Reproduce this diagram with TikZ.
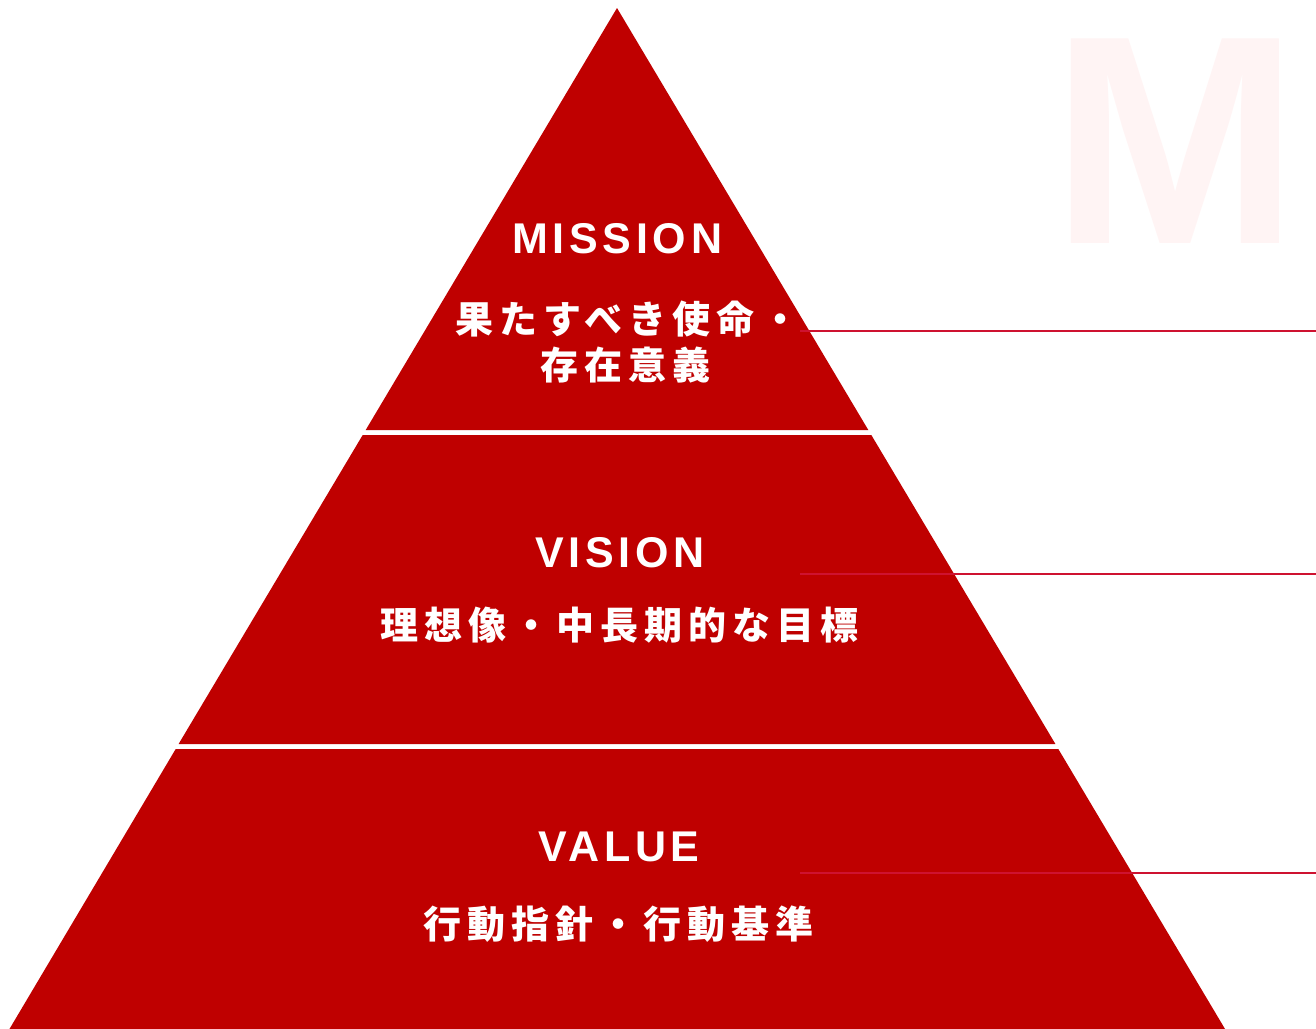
\documentclass[tikz,border=0pt]{standalone}
\usepackage{fontspec}
\setmainfont{Liberation Sans}
\newfontfamily\titlefont{Liberation Sans}[LetterSpace=11]
\newfontfamily\bigfont{Liberation Sans}
\newfontfamily\cjkfont{Noto Sans CJK JP}[LetterSpace=16]
\definecolor{pyred}{RGB}{191,0,0}
\definecolor{linered}{RGB}{206,18,48}
\definecolor{ghost}{RGB}{255,244,244}
\tikzset{
  band/.style={fill=pyred, draw=none},
  title/.style={text=white, inner sep=0pt, anchor=base west, font=\titlefont\bfseries\fontsize{43}{43}\selectfont},
  jptext/.style={text=white, inner sep=0pt, anchor=base west, font=\cjkfont\bfseries\fontsize{38}{38}\selectfont},
  leader/.style={draw=linered, line width=2pt},
}
\begin{document}
\begin{tikzpicture}[x=1pt, y=-1pt]
\useasboundingbox (0,0) rectangle (1316,1028);
\fill[white] (0,0) rectangle (1316,1028);
% faint background letter
\node[text=ghost, inner sep=0pt, anchor=base, font=\bigfont\bfseries\fontsize{297.5}{300}\selectfont] (bgM) at (1175,243) {M};
% pyramid bands
\fill[band] (617,8) -- (868.3,430) -- (365.7,430) -- cycle;
\fill[band] (362.7,435) -- (871.3,435) -- (1055.4,744) -- (178.6,744) -- cycle;
\fill[band] (175.7,749) -- (1058.3,749) -- (1228,1034) -- (6.5,1034) -- cycle;
% leader lines
\coordinate (m1) at (800,331); \coordinate (m2) at (1316,331);
\coordinate (v1) at (800,574); \coordinate (v2) at (1316,574);
\coordinate (a1) at (800,873); \coordinate (a2) at (1316,873);
\draw[leader] (m1) -- (m2);
\draw[leader] (v1) -- (v2);
\draw[leader] (a1) -- (a2);
% texts
\node[title] (mission) at (512,253) {MISSION};
\node[jptext] (missionjp1) at (455,333) {果たすべき使命・};
\node[jptext] (missionjp2) at (540,379) {存在意義};
\node[title] (vision) at (535,567) {VISION};
\node[jptext] (visionjp) at (380,639) {理想像・中長期的な目標};
\node[title] (value) at (538,861) {VALUE};
\node[jptext] (valuejp) at (423,938) {行動指針・行動基準};
\end{tikzpicture}
\end{document}
